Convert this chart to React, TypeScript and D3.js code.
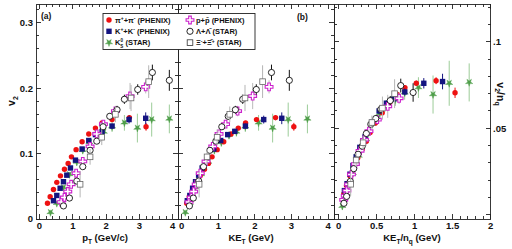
import * as d3 from "d3";

// pi+ + pi- (PHENIX)
const piPt = [0.24, 0.32, 0.42, 0.52, 0.63, 0.75, 0.86, 0.96, 1.1, 1.28, 1.48, 1.68, 1.88, 2.18, 2.7, 3.2];
const piKet = [0.138, 0.209, 0.303, 0.399, 0.505, 0.623, 0.731, 0.83, 0.969, 1.148, 1.347, 1.546, 1.745, 2.044, 2.564, 3.063];
const piV2 = [0.024, 0.034, 0.045, 0.056, 0.066, 0.076, 0.085, 0.095, 0.106, 0.118, 0.13, 0.139, 0.147, 0.152, 0.155, 0.141];
const piErr = [0.001, 0.001, 0.001, 0.001, 0.001, 0.001, 0.001, 0.001, 0.001, 0.002, 0.002, 0.002, 0.003, 0.003, 0.004, 0.006];

// K+ + K- (PHENIX)
const kPt = [0.42, 0.52, 0.62, 0.72, 0.82, 0.93, 1.08, 1.28, 1.48, 1.68, 1.88, 2.18, 2.69, 3.19];
const kKet = [0.154, 0.223, 0.299, 0.379, 0.463, 0.559, 0.694, 0.878, 1.066, 1.257, 1.45, 1.741, 2.241, 2.734];
const kV2 = [0.028, 0.036, 0.047, 0.057, 0.067, 0.078, 0.09, 0.107, 0.12, 0.129, 0.134, 0.142, 0.152, 0.154];
const kErr = [0.002, 0.002, 0.002, 0.002, 0.002, 0.002, 0.002, 0.002, 0.003, 0.003, 0.003, 0.004, 0.006, 0.009];

// K0s (STAR)
const ksPt = [0.33, 0.52, 0.72, 0.9, 1.12, 1.3, 1.5, 1.72, 1.93, 2.18, 2.55, 2.94, 3.37, 3.9];
const ksKet = [0.099, 0.222, 0.377, 0.531, 0.728, 0.894, 1.083, 1.293, 1.495, 1.738, 2.1, 2.484, 2.909, 3.434];
const ksV2 = [0.01, 0.024, 0.048, 0.068, 0.087, 0.105, 0.117, 0.128, 0.133, 0.141, 0.147, 0.139, 0.152, 0.153];
const ksErr = [0.004, 0.004, 0.004, 0.004, 0.005, 0.005, 0.006, 0.006, 0.007, 0.008, 0.012, 0.022, 0.026, 0.022];

// p + pbar (PHENIX)
const pPt = [0.65, 0.75, 0.85, 0.95, 1.1, 1.3, 1.52, 1.72, 1.92, 2.28, 2.72, 3.19];
const pKet = [0.203, 0.263, 0.328, 0.397, 0.508, 0.665, 0.848, 1.021, 1.199, 1.527, 1.939, 2.387];
const pV2 = [0.026, 0.033, 0.042, 0.053, 0.07, 0.088, 0.111, 0.13, 0.145, 0.165, 0.188, 0.202];
const pErr = [0.002, 0.002, 0.002, 0.002, 0.003, 0.003, 0.004, 0.005, 0.006, 0.008, 0.02, 0.01];

// Lambda + Lambdabar (STAR)
const lamPt = [0.72, 0.9, 1.12, 1.3, 1.52, 1.72, 1.91, 2.11, 2.33, 2.55, 2.95, 3.39, 3.9];
const lamKet = [0.212, 0.318, 0.465, 0.597, 0.77, 0.934, 1.096, 1.271, 1.467, 1.667, 2.038, 2.453, 2.94];
const lamV2 = [0.02, 0.032, 0.058, 0.08, 0.105, 0.119, 0.141, 0.157, 0.167, 0.183, 0.198, 0.224, 0.212];
const lamErr = [0.003, 0.003, 0.003, 0.003, 0.004, 0.004, 0.005, 0.005, 0.006, 0.007, 0.008, 0.012, 0.016];

// Xi- + Xibar+ (STAR)
const xiPt = [1.22, 1.52, 1.87, 2.28, 2.75, 3.28];
const xiKet = [0.477, 0.693, 0.968, 1.314, 1.73, 2.21];
const xiV2 = [0.053, 0.095, 0.125, 0.16, 0.185, 0.21];
const xiErr = [0.02, 0.012, 0.012, 0.012, 0.02, 0.025];

const ptTicks = ["0", "1", "2", "3", "4"];
const v2Ticks = ["0", "0.1", "0.2", "0.3"];
const ncqXTicks = ["0", "0.5", "1", "1.5", "2"];
const ncqYTicks = [".05", ".1"];

type Species = {
  pt: number[];
  ket: number[];
  v2: number[];
  err: number[];
  nq: number;
  kind: string;
  color: string;
  errColor: string;
};

const species: Species[] = [
  { pt: ksPt, ket: ksKet, v2: ksV2, err: ksErr, nq: 2, kind: "star", color: "#4f9e4a", errColor: "#9ccc98" },
  { pt: piPt, ket: piKet, v2: piV2, err: piErr, nq: 2, kind: "dot", color: "#ee1111", errColor: "#ee1111" },
  { pt: kPt, ket: kKet, v2: kV2, err: kErr, nq: 2, kind: "sq", color: "#141480", errColor: "#141480" },
  { pt: pPt, ket: pKet, v2: pV2, err: pErr, nq: 3, kind: "cross", color: "#cc22cc", errColor: "#bbbbbb" },
  { pt: lamPt, ket: lamKet, v2: lamV2, err: lamErr, nq: 3, kind: "ocirc", color: "#111111", errColor: "#111111" },
  { pt: xiPt, ket: xiKet, v2: xiV2, err: xiErr, nq: 3, kind: "osq", color: "#666666", errColor: "#b5b5b5" },
];

const FONT = "'Liberation Sans', Arial, sans-serif";
const TOP = 4;
const BOTTOM = 219;

const xA = d3.scaleLinear().domain([-0.105, 4.16]).range([36, 178]);
const xB = d3.scaleLinear().domain([-0.1, 4.16]).range([178, 334]);
const xC = d3.scaleLinear().domain([-0.06, 2.0]).range([334, 490.7]);
const yAB = d3.scaleLinear().domain([0, 0.3287]).range([BOTTOM, TOP]);
const yC = d3.scaleLinear().domain([-0.0024, 0.1218]).range([BOTTOM, TOP]);

const starPath = d3.symbol(d3.symbolStar, 17)() || "";
const crossPath = d3.symbol(d3.symbolCross, 34)() || "";

const Marker = ({ kind, x, y, color }: { kind: string; x: number; y: number; color: string }) => {
  if (kind === "dot") return <circle cx={x} cy={y} r={2.7} fill={color} />;
  if (kind === "sq") return <rect x={x - 2.7} y={y - 2.7} width={5.4} height={5.4} fill={color} />;
  if (kind === "star")
    return <path d={starPath} transform={`translate(${x},${y}) rotate(180)`} fill={color} stroke={color} strokeWidth={0.4} />;
  if (kind === "cross")
    return <path d={crossPath} transform={`translate(${x},${y})`} fill="white" stroke={color} strokeWidth={1.1} />;
  if (kind === "ocirc")
    return <circle cx={x} cy={y} r={3.1} fill="white" stroke={color} strokeWidth={0.9} />;
  return <rect x={x - 2.8} y={y - 2.8} width={5.6} height={5.6} fill="white" stroke={color} strokeWidth={0.8} />;
};

const Frame = ({
  x,
  y,
  xStep,
  xMajor,
  xMax,
  yStep,
  yMajor,
  yMax,
  yMin,
}: {
  x: d3.ScaleLinear<number, number>;
  y: d3.ScaleLinear<number, number>;
  xStep: number;
  xMajor: number;
  xMax: number;
  yStep: number;
  yMajor: number;
  yMax: number;
  yMin: number;
}) => {
  const [x0, x1] = x.range();
  const xt = d3.range(0, Math.round(xMax / xStep) + 1).map((i) => i * xStep);
  const yt = d3.range(Math.round(yMin / yStep), Math.round(yMax / yStep) + 1).map((i) => i * yStep);
  const isMaj = (v: number, m: number) => Math.abs(v / m - Math.round(v / m)) < 1e-6;
  return (
    <g stroke="#222" strokeWidth={0.9} shapeRendering="crispEdges">
      <rect x={x0} y={TOP} width={x1 - x0} height={BOTTOM - TOP} fill="none" />
      {xt.map((v) => {
        const l = isMaj(v, xMajor) ? 5 : 3;
        return (
          <g key={"x" + v}>
            <line x1={x(v)} x2={x(v)} y1={BOTTOM} y2={BOTTOM - l} />
            <line x1={x(v)} x2={x(v)} y1={TOP} y2={TOP + l} />
          </g>
        );
      })}
      {yt.map((v) => {
        const l = isMaj(v, yMajor) ? 5 : 3;
        return (
          <g key={"y" + v}>
            <line x1={x0} x2={x0 + l} y1={y(v)} y2={y(v)} />
            <line x1={x1} x2={x1 - l} y1={y(v)} y2={y(v)} />
          </g>
        );
      })}
    </g>
  );
};

const Points = ({
  x,
  y,
  mode,
}: {
  x: d3.ScaleLinear<number, number>;
  y: d3.ScaleLinear<number, number>;
  mode: "pt" | "ket" | "ncq";
}) => (
  <g>
    {species.map((s, si) => (
      <g key={si}>
        {s.v2.map((v, i) => {
          const xv = mode === "pt" ? s.pt[i] : mode === "ket" ? s.ket[i] : s.ket[i] / s.nq;
          const sc = mode === "ncq" ? s.nq : 1;
          const yv = v / sc;
          const e = s.err[i] / sc;
          return (
            <line
              key={"e" + i}
              x1={x(xv)}
              x2={x(xv)}
              y1={y(yv - e)}
              y2={y(yv + e)}
              stroke={s.errColor}
              strokeWidth={1}
            />
          );
        })}
        {s.v2.map((v, i) => {
          const xv = mode === "pt" ? s.pt[i] : mode === "ket" ? s.ket[i] : s.ket[i] / s.nq;
          const yv = mode === "ncq" ? v / s.nq : v;
          return <Marker key={"m" + i} kind={s.kind} x={x(xv)} y={y(yv)} color={s.color} />;
        })}
      </g>
    ))}
  </g>
);

const legendRows = [
  { kind: "dot", color: "#ee1111", col: 0, row: 0, label: <>π<tspan dy={-2.5} fontSize={5}>+</tspan><tspan dy={2.5}>+π</tspan><tspan dy={-2.5} fontSize={5}>-</tspan><tspan dy={2.5}> (PHENIX)</tspan></> },
  { kind: "sq", color: "#141480", col: 0, row: 1, label: <>K<tspan dy={-2.5} fontSize={5}>+</tspan><tspan dy={2.5}>+K</tspan><tspan dy={-2.5} fontSize={5}>-</tspan><tspan dy={2.5}> (PHENIX)</tspan></> },
  { kind: "star", color: "#4f9e4a", col: 0, row: 2, label: <>K<tspan dy={-3} fontSize={4.5}>0</tspan><tspan dx={-2.6} dy={5.5} fontSize={4.5}>S</tspan><tspan dy={-2.5}> (STAR)</tspan></> },
  { kind: "cross", color: "#cc22cc", col: 1, row: 0, label: <>p+p̄ (PHENIX)</> },
  { kind: "ocirc", color: "#111111", col: 1, row: 1, label: <>Λ+Λ̄ (STAR)</> },
  { kind: "osq", color: "#333333", col: 1, row: 2, label: <>Ξ<tspan dy={-2.5} fontSize={5}>-</tspan><tspan dy={2.5}>+Ξ̄</tspan><tspan dy={-2.5} fontSize={5}>+</tspan><tspan dy={2.5}> (STAR)</tspan></> },
];

export default function App() {
  const yTickVals = v2Ticks.map(Number);
  const ncqYVals = ncqYTicks.map(Number);
  return (
    <div style={{ position: "absolute", left: 0, top: 0 }}>
      <svg width={512} height={249} style={{ display: "block", background: "white" }}>
        <Points x={xA} y={yAB} mode="pt" />
        <Points x={xB} y={yAB} mode="ket" />
        <Points x={xC} y={yC} mode="ncq" />

        <Frame x={xA} y={yAB} xStep={0.2} xMajor={1} xMax={4} yStep={0.02} yMajor={0.1} yMax={0.32} yMin={0} />
        <Frame x={xB} y={yAB} xStep={0.2} xMajor={1} xMax={4} yStep={0.02} yMajor={0.1} yMax={0.32} yMin={0} />
        <Frame x={xC} y={yC} xStep={0.1} xMajor={0.5} xMax={2} yStep={0.01} yMajor={0.05} yMax={0.12} yMin={0} />

        <g fontFamily={FONT} fontWeight="bold" fill="#111">
          {v2Ticks.map((t, i) => (
            <text key={t} x={33} y={yAB(yTickVals[i])} dy="0.35em" textAnchor="end" fontSize={9.5}>
              {t}
            </text>
          ))}
          {ptTicks.map((t) => (
            <text key={"a" + t} x={xA(+t)} y={229} textAnchor="middle" fontSize={9.5}>
              {t}
            </text>
          ))}
          {ptTicks.map((t) => (
            <text key={"b" + t} x={xB(+t)} y={229} textAnchor="middle" fontSize={9.5}>
              {t}
            </text>
          ))}
          {ncqXTicks.map((t) => (
            <text key={"c" + t} x={xC(+t)} y={229} textAnchor="middle" fontSize={9.5}>
              {t}
            </text>
          ))}
          {ncqYTicks.map((t, i) => (
            <text key={t} x={493} y={yC(ncqYVals[i])} dy="0.35em" fontSize={9.5}>
              {t}
            </text>
          ))}

          <text x={105} y={241} textAnchor="middle" fontSize={9.5}>
            p<tspan dy={2.5} fontSize={6.5}>T</tspan>
            <tspan dy={-2.5}> (GeV/c)</tspan>
          </text>
          <text x={251} y={241} textAnchor="middle" fontSize={9.5}>
            KE<tspan dy={2.5} fontSize={6.5}>T</tspan>
            <tspan dy={-2.5}> (GeV)</tspan>
          </text>
          <text x={412} y={241} textAnchor="middle" fontSize={9.5}>
            KE<tspan dy={2.5} fontSize={6.5}>T</tspan>
            <tspan dy={-2.5}>/n</tspan>
            <tspan dy={2.5} fontSize={6.5}>q</tspan>
            <tspan dy={-2.5}> (GeV)</tspan>
          </text>
          <text transform="translate(15,101) rotate(-90)" textAnchor="middle" fontSize={10.5}>
            v<tspan dy={2.5} fontSize={7}>2</tspan>
          </text>
          <text transform="translate(497,94) rotate(90)" textAnchor="middle" fontSize={10.5}>
            v<tspan dy={2.5} fontSize={7}>2</tspan>
            <tspan dy={-2.5}>/n</tspan>
            <tspan dy={2.5} fontSize={7}>q</tspan>
          </text>

          <text x={41} y={19} fontSize={8.5}>(a)</text>
          <text x={297} y={20} fontSize={8.5}>(b)</text>
        </g>

        <g>
          <rect x={103} y={13.5} width={152} height={36} fill="white" stroke="#222" strokeWidth={0.9} />
          {legendRows.map((r, i) => {
            const mx = r.col === 0 ? 109 : 190;
            const my = 20 + r.row * 11.3;
            return (
              <g key={i}>
                <Marker kind={r.kind} x={mx} y={my} color={r.color} />
                <text
                  x={mx + 6}
                  y={my}
                  dy="0.35em"
                  fontFamily={FONT}
                  fontWeight="bold"
                  fontSize={7.5}
                  fill="#111"
                >
                  {r.label}
                </text>
              </g>
            );
          })}
        </g>
      </svg>
    </div>
  );
}
